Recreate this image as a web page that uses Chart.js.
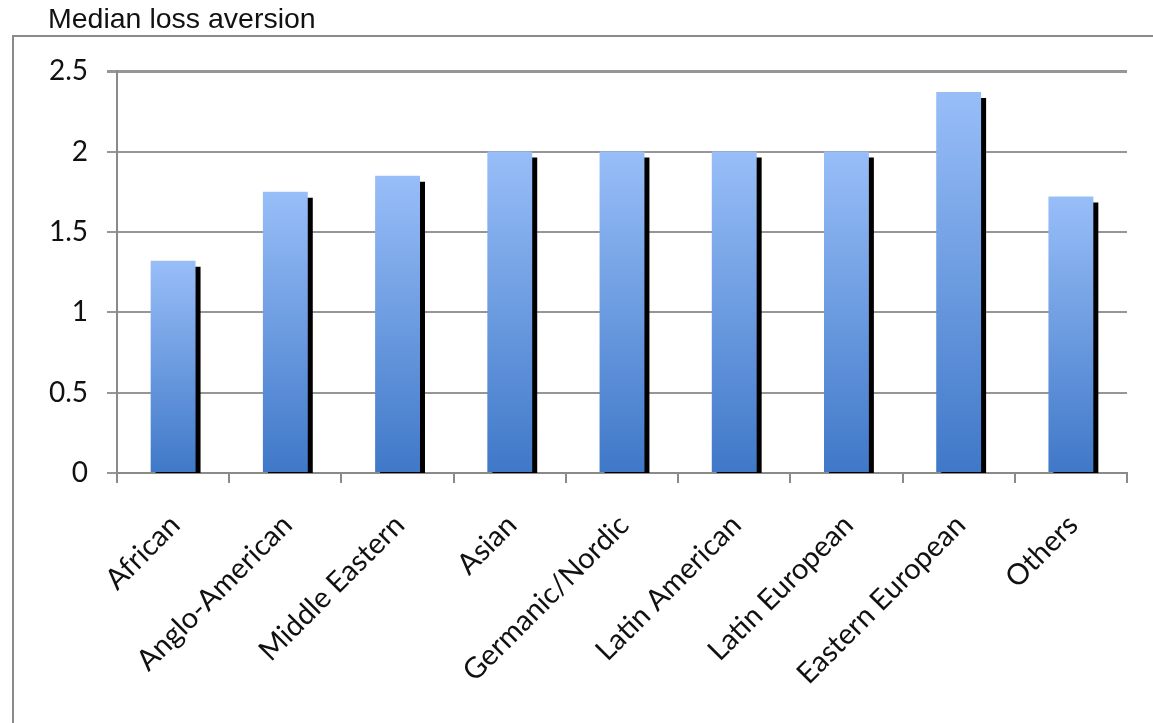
<!DOCTYPE html>
<html>
<head>
<meta charset="utf-8">
<script src="https://cdn.jsdelivr.net/npm/chart.js@4"></script>
<style>
  html, body { margin: 0; padding: 0; background: #fff; }
  body { width: 1153px; height: 723px; position: relative; overflow: hidden; }
  #frame {
    position: absolute; left: 12px; top: 35px; width: 1200px; height: 800px;
    border-left: 2px solid #8a8a8a; border-top: 2px solid #8a8a8a;
  }
  #wrap { position: absolute; left: 0; top: 0; width: 1153px; height: 723px; }
</style>
</head>
<body>
<div id="frame"></div>
<div id="wrap"><canvas id="chart" width="1153" height="723"></canvas></div>
<script>
// values
const regions = ['African', 'Anglo-American', 'Middle Eastern', 'Asian', 'Germanic/Nordic',
    'Latin American', 'Latin European', 'Eastern European', 'Others'];
const medianLoss = [1.32, 1.75, 1.85, 2.0, 2.0, 2.0, 2.0, 2.37, 1.72];
const yTicks = [0, 0.5, 1, 1.5, 2, 2.5];

const labelFont = 'Lato, "Open Sans", sans-serif';

// vertical gradient per bar, light on top
function barFill(ctx) {
    const chart = ctx.chart;
    if (!chart.chartArea || ctx.raw === undefined) return '#6a9be0';
    const y = chart.scales.y;
    const top = y.getPixelForValue(ctx.raw);
    const bottom = y.getPixelForValue(0);
    const g = chart.ctx.createLinearGradient(0, top, 0, bottom);
    g.addColorStop(0, '#98bef8');
    g.addColorStop(1, '#3f78c8');
    return g;
}

// the black drop shadow to the lower right of each bar
const barShadow = {
    id: 'barShadow',
    beforeDatasetDraw(chart) {
        const c = chart.ctx;
        c.save();
        c.shadowColor = '#000';
        c.shadowOffsetX = 5;
        c.shadowOffsetY = 6;
        c.shadowBlur = 0;
    },
    afterDatasetDraw(chart) {
        chart.ctx.restore();
    }
};

new Chart(document.getElementById('chart'), {
    type: 'bar',
    data: {
        labels: regions,
        datasets: [{
            label: 'Median loss aversion',
            data: medianLoss,
            backgroundColor: barFill,
            borderWidth: 0,
            categoryPercentage: 1,
            barPercentage: 0.4,
            clip: 0
        }]
    },
    plugins: [barShadow],
    options: {
        responsive: false,
        animation: false,
        layout: { padding: { left: 48, right: 26, top: 0, bottom: 0 } },
        plugins: {
            legend: { display: false },
            tooltip: { enabled: false },
            title: {
                display: true,
                text: 'Median loss aversion',
                align: 'start',
                color: '#111',
                font: { family: '"Liberation Sans", Arial, sans-serif', size: 28.5, weight: 'normal' },
                padding: { top: 3, bottom: 34 }
            }
        },
        scales: {
            x: {
                afterFit: s => { s.height = 250; },
                grid: {
                    offset: true,
                    drawOnChartArea: false,
                    drawTicks: true,
                    tickLength: 10,
                    color: '#8a8a8a',
                    lineWidth: 2
                },
                border: { display: true, color: '#8a8a8a', width: 2 },
                ticks: {
                    autoSkip: false,
                    maxRotation: 45,
                    minRotation: 45,
                    padding: 25,
                    labelOffset: 2,
                    color: '#111',
                    font: { family: labelFont, size: 29 }
                }
            },
            y: {
                min: 0,
                max: 2.5,
                afterFit: s => { s.width = 69; },
                afterBuildTicks: s => { s.ticks = yTicks.map(v => ({ value: v })); },
                grid: {
                    color: '#969696',
                    lineWidth: c => (c.tick && c.tick.value === 2.5 ? 3 : 2),
                    tickLength: 10
                },
                border: { display: true, color: '#8a8a8a', width: 2 },
                ticks: {
                    padding: 19,
                    color: '#111',
                    font: { family: labelFont, size: 28 },
                    callback: v => String(v)
                }
            }
        }
    }
});
</script>
</body>
</html>
